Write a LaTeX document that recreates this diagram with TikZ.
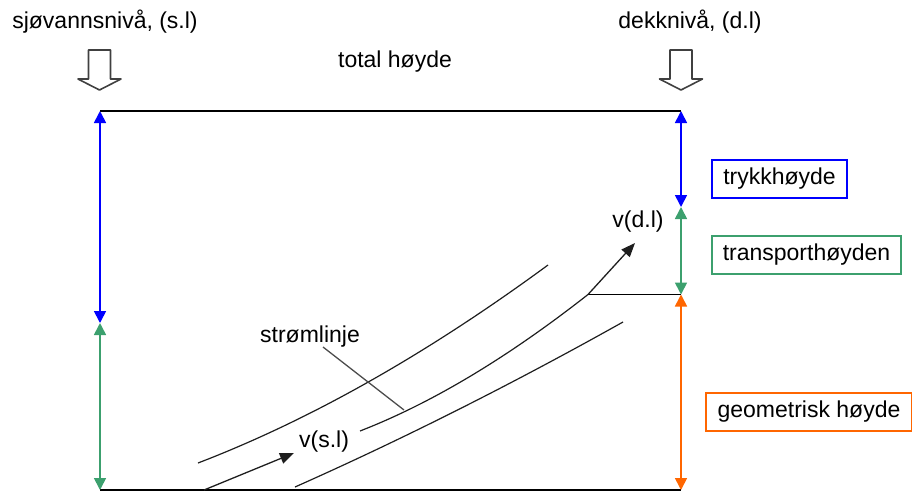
\documentclass[tikz,border=0pt]{standalone}
\usepackage{fontspec}
\setmainfont{Liberation Sans}
\usetikzlibrary{arrows.meta,positioning}
\definecolor{hblue}{RGB}{0,0,255}
\definecolor{hgreen}{RGB}{60,160,110}
\definecolor{horange}{RGB}{255,102,0}
\definecolor{ink}{RGB}{30,30,30}
\tikzset{
  >={Triangle[length=12pt,width=12pt]},
  lbl/.style={font=\fontsize{23}{27}\selectfont,inner sep=0pt},
  hbox/.style={draw=#1,line width=1.4pt,font=\fontsize{23}{27}\selectfont,
    minimum height=38pt,inner sep=0pt},
  level/.style={<->,line width=1.7pt,draw=#1},
  stream/.style={line width=1.2pt,draw=ink},
  vel/.style={-{Triangle[length=14pt,width=11pt]},line width=1.3pt,draw=ink},
  % hollow level arrow
  pics/drop/.style={code={
    \draw[line width=1.6pt,draw=black!75,fill=white,line join=round]
      (-11,0) -- (-11,29) -- (-21.5,29) -- (0,40) -- (21.5,29) -- (11,29) -- (11,0) -- cycle;
  }},
}
\begin{document}
\begin{tikzpicture}[x=1pt,y=-1pt]
  \useasboundingbox (0,0) rectangle (912,491);
  % top labels
  \node[lbl] (sl) at (105,22) {sjøvannsnivå, (s.l)};
  \node[lbl] (dl) at (690,22) {dekknivå, (d.l)};
  \node[lbl] (tot) at (395,62) {total høyde};
  \pic at (99.5,50) {drop};
  \pic at (681,50) {drop};
  % frame levels
  \coordinate (lt) at (100,111);
  \coordinate (lm) at (100,323);
  \coordinate (lb) at (100,490);
  \coordinate (rt) at (681,111);
  \coordinate (rp) at (681,207);
  \coordinate (rm) at (681,294.5);
  \coordinate (rb) at (681,490);
  \draw[line width=1.5pt] (lt) -- (rt);
  \draw[line width=1.5pt] (lb) -- (rb);
  \draw[level=hblue] (lt) -- (lm);
  \draw[level=hgreen] (lm) -- (lb);
  \draw[level=hblue] (rt) -- (rp);
  \draw[level=hgreen] (rp) -- (rm);
  \draw[level=horange] (rm) -- (rb);
  % height boxes
  \node[hbox=hblue,minimum width=135pt] (tr) at (779.5,179) {trykkhøyde};
  \node[hbox=hgreen,minimum width=189pt] (tp) at (806.5,255) {transporthøyden};
  \node[hbox=horange,minimum width=206pt] (ge) at (809,412) {geometrisk høyde};
  % streamlines
  \coordinate (s1a) at (198,463);
  \coordinate (s1b) at (548,265);
  \coordinate (s2a) at (360,431);
  \coordinate (s2b) at (588,294.5);
  \coordinate (s3a) at (295,487);
  \coordinate (s3b) at (623,322);
  \draw[stream] (s1a) .. controls (310.7,419.7) and (427.3,353.7) .. (s1b);
  \draw[stream] (s2a) .. controls (432,403) and (508,357.3) .. (s2b);
  \draw[stream] (s3a) .. controls (403,439) and (512.3,384) .. (s3b);
  \draw[line width=1.4pt] (s2b) -- (rm);
  % velocities
  \coordinate (vsa) at (204,490);
  \coordinate (vsb) at (294,453);
  \coordinate (vdb) at (635,243);
  \draw[vel] (vsa) -- (vsb);
  \draw[vel] (s2b) -- (vdb);
  \node[lbl] (vs) at (324,442) {v(s.l)};
  \node[lbl] (vd) at (638,222) {v(d.l)};
  % leader
  \node[lbl] (sm) at (310,337) {strømlinje};
  \coordinate (smb) at (404,410);
  \draw[line width=1.3pt,draw=black!70] (323,347) -- (smb);
\end{tikzpicture}
\end{document}
